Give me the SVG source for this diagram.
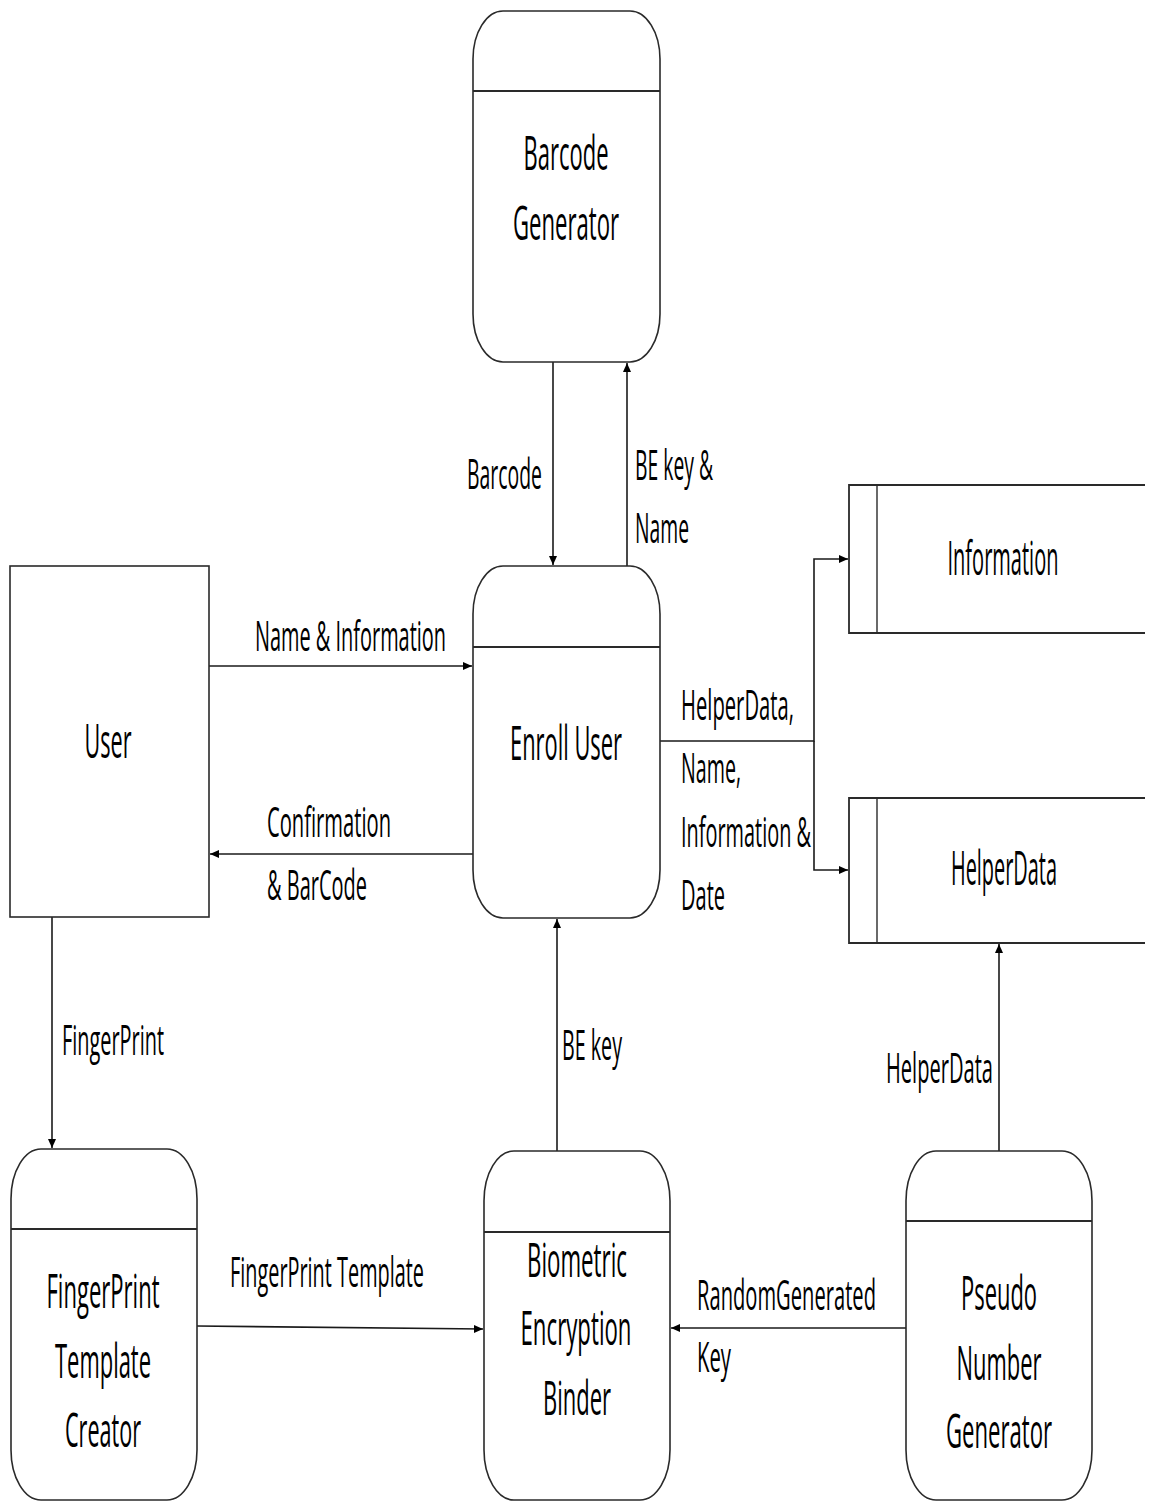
<svg xmlns="http://www.w3.org/2000/svg" width="1151" height="1502" viewBox="0 0 1151 1502">
  <style>
    .bg { fill: #ffffff; }
    .proc { fill: #ffffff; stroke: #2a2a2a; stroke-width: 1.6; }
    .div { stroke: #2a2a2a; stroke-width: 1.8; fill: none; }
    .ent { fill: #ffffff; stroke: #2a2a2a; stroke-width: 1.6; }
    .store { stroke: #2a2a2a; stroke-width: 1.8; fill: none; }
    .flow { stroke: #1a1a1a; stroke-width: 1.6; fill: none; }
    .nt { font-family: "Open Sans", "Liberation Sans", sans-serif; font-size: 48px; fill: #000; text-anchor: middle; }
    .lt { font-family: "Open Sans", "Liberation Sans", sans-serif; font-size: 42px; fill: #000; }
  </style>
  <defs>
    <marker id="arrow" markerWidth="10" markerHeight="10" refX="9" refY="5" orient="auto" markerUnits="userSpaceOnUse">
      <path d="M0,1 L9,5 L0,9 Z" fill="#000"/>
    </marker>
  </defs>

  <rect class="bg" x="0" y="0" width="1151" height="1502"/>

  <!-- connectors -->
  <g id="connectors">
    <line class="flow" x1="553" y1="362" x2="553" y2="565" marker-end="url(#arrow)"/>
    <line class="flow" x1="627" y1="566" x2="627" y2="363" marker-end="url(#arrow)"/>
    <line class="flow" x1="209" y1="666" x2="472" y2="666" marker-end="url(#arrow)"/>
    <line class="flow" x1="473" y1="854" x2="210" y2="854" marker-end="url(#arrow)"/>
    <polyline class="flow" points="660,741 814,741 814,559 848,559" marker-end="url(#arrow)"/>
    <polyline class="flow" points="814,741 814,870 848,870" marker-end="url(#arrow)"/>
    <line class="flow" x1="52" y1="917" x2="52" y2="1148" marker-end="url(#arrow)"/>
    <line class="flow" x1="557" y1="1151" x2="557" y2="919" marker-end="url(#arrow)"/>
    <line class="flow" x1="999" y1="1151" x2="999" y2="944" marker-end="url(#arrow)"/>
    <line class="flow" x1="197" y1="1326" x2="483" y2="1329" marker-end="url(#arrow)"/>
    <line class="flow" x1="906" y1="1328" x2="671" y2="1328" marker-end="url(#arrow)"/>

    <text class="lt" x="467" y="489" textLength="75" lengthAdjust="spacingAndGlyphs">Barcode</text>
    <text class="lt" x="635" y="480" textLength="78" lengthAdjust="spacingAndGlyphs">BE key &amp;</text>
    <text class="lt" x="635" y="543" textLength="54" lengthAdjust="spacingAndGlyphs">Name</text>
    <text class="lt" x="255" y="651" textLength="191" lengthAdjust="spacingAndGlyphs">Name &amp; Information</text>
    <text class="lt" x="267" y="837" textLength="124" lengthAdjust="spacingAndGlyphs">Confirmation</text>
    <text class="lt" x="267" y="900" textLength="100" lengthAdjust="spacingAndGlyphs">&amp; BarCode</text>
    <text class="lt" x="681" y="720" textLength="113" lengthAdjust="spacingAndGlyphs">HelperData,</text>
    <text class="lt" x="681" y="783" textLength="60" lengthAdjust="spacingAndGlyphs">Name,</text>
    <text class="lt" x="681" y="847" textLength="130" lengthAdjust="spacingAndGlyphs">Information &amp;</text>
    <text class="lt" x="681" y="910" textLength="44" lengthAdjust="spacingAndGlyphs">Date</text>
    <text class="lt" x="62" y="1055" textLength="102" lengthAdjust="spacingAndGlyphs">FingerPrint</text>
    <text class="lt" x="562" y="1060" textLength="60" lengthAdjust="spacingAndGlyphs">BE key</text>
    <text class="lt" x="886" y="1083" textLength="107" lengthAdjust="spacingAndGlyphs">HelperData</text>
    <text class="lt" x="230" y="1287" textLength="194" lengthAdjust="spacingAndGlyphs">FingerPrint Template</text>
    <text class="lt" x="697" y="1310" textLength="179" lengthAdjust="spacingAndGlyphs">RandomGenerated</text>
    <text class="lt" x="697" y="1372" textLength="34" lengthAdjust="spacingAndGlyphs">Key</text>
  </g>

  <!-- process: Barcode Generator -->
  <g id="barcode-generator">
    <rect class="proc" x="473" y="11" width="187" height="351" rx="30" ry="48"/>
    <line class="div" x1="473" y1="91" x2="660" y2="91"/>
    <text class="nt" x="566" y="170" textLength="85" lengthAdjust="spacingAndGlyphs">Barcode</text>
    <text class="nt" x="566" y="240" textLength="106" lengthAdjust="spacingAndGlyphs">Generator</text>
  </g>

  <!-- external entity: User -->
  <g id="user">
    <rect class="ent" x="10" y="566" width="199" height="351"/>
    <text class="nt" x="108" y="758" textLength="47" lengthAdjust="spacingAndGlyphs">User</text>
  </g>

  <!-- process: Enroll User -->
  <g id="enroll-user">
    <rect class="proc" x="473" y="566" width="187" height="352" rx="30" ry="48"/>
    <line class="div" x1="473" y1="647" x2="660" y2="647"/>
    <text class="nt" x="566" y="760" textLength="112" lengthAdjust="spacingAndGlyphs">Enroll User</text>
  </g>

  <!-- data store: Information -->
  <g id="information-store">
    <path class="store" d="M1145,485 H849 V633 H1145"/>
    <line class="store" x1="877" y1="485" x2="877" y2="633" style="stroke-width:1.4"/>
    <text class="nt" x="1003" y="575" textLength="111" lengthAdjust="spacingAndGlyphs">Information</text>
  </g>

  <!-- data store: HelperData -->
  <g id="helperdata-store">
    <path class="store" d="M1145,798 H849 V943 H1145"/>
    <line class="store" x1="877" y1="798" x2="877" y2="943" style="stroke-width:1.4"/>
    <text class="nt" x="1004" y="885" textLength="106" lengthAdjust="spacingAndGlyphs">HelperData</text>
  </g>

  <!-- process: FingerPrint Template Creator -->
  <g id="fingerprint-template-creator">
    <rect class="proc" x="11" y="1149" width="186" height="351" rx="30" ry="50"/>
    <line class="div" x1="11" y1="1229" x2="197" y2="1229"/>
    <text class="nt" x="103" y="1308" textLength="113" lengthAdjust="spacingAndGlyphs">FingerPrint</text>
    <text class="nt" x="103" y="1378" textLength="96" lengthAdjust="spacingAndGlyphs">Template</text>
    <text class="nt" x="103" y="1447" textLength="76" lengthAdjust="spacingAndGlyphs">Creator</text>
  </g>

  <!-- process: Biometric Encryption Binder -->
  <g id="biometric-encryption-binder">
    <rect class="proc" x="484" y="1151" width="186" height="349" rx="30" ry="50"/>
    <line class="div" x1="484" y1="1232" x2="670" y2="1232"/>
    <text class="nt" x="577" y="1277" textLength="100" lengthAdjust="spacingAndGlyphs">Biometric</text>
    <text class="nt" x="576" y="1345" textLength="111" lengthAdjust="spacingAndGlyphs">Encryption</text>
    <text class="nt" x="577" y="1415" textLength="68" lengthAdjust="spacingAndGlyphs">Binder</text>
  </g>

  <!-- process: Pseudo Number Generator -->
  <g id="pseudo-number-generator">
    <rect class="proc" x="906" y="1151" width="186" height="349" rx="30" ry="50"/>
    <line class="div" x1="906" y1="1221" x2="1092" y2="1221"/>
    <text class="nt" x="999" y="1310" textLength="76" lengthAdjust="spacingAndGlyphs">Pseudo</text>
    <text class="nt" x="999" y="1380" textLength="85" lengthAdjust="spacingAndGlyphs">Number</text>
    <text class="nt" x="999" y="1448" textLength="106" lengthAdjust="spacingAndGlyphs">Generator</text>
  </g>
</svg>
